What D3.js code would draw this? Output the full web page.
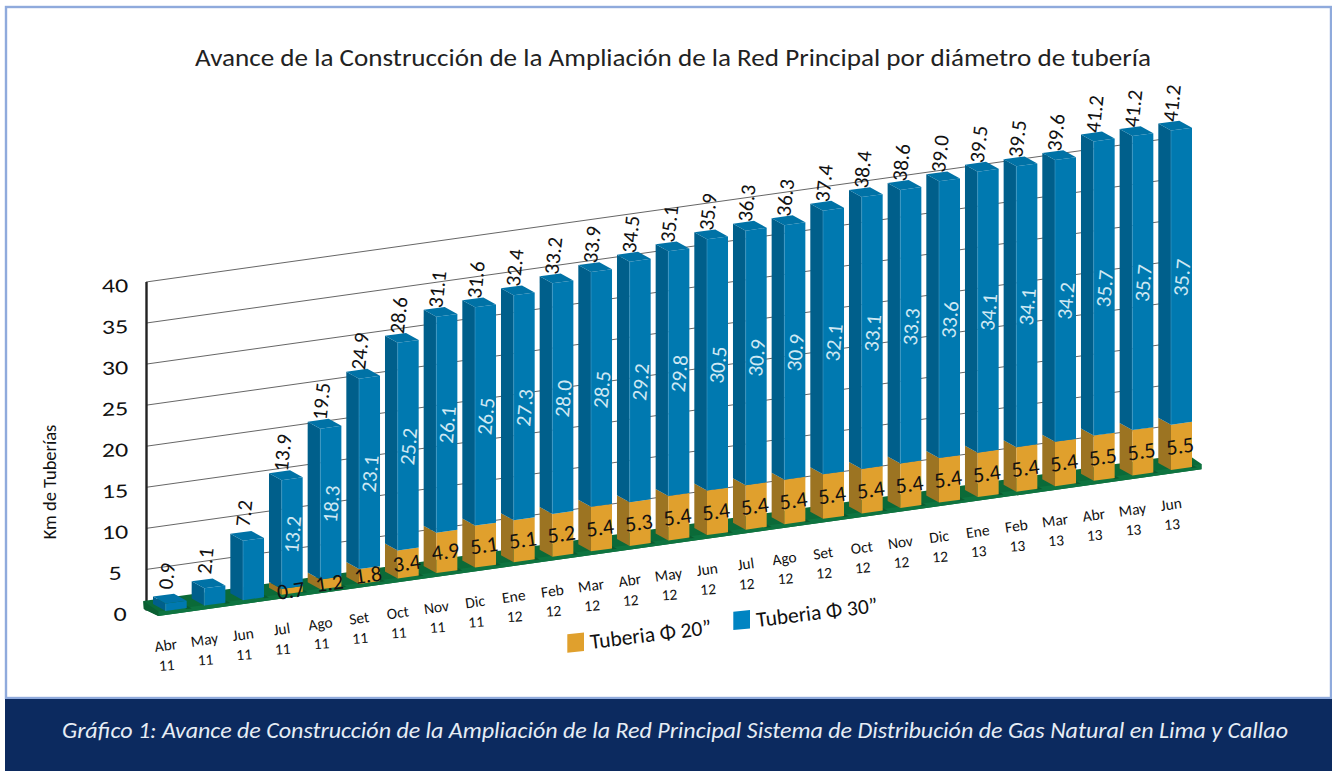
<!DOCTYPE html>
<html><head><meta charset="utf-8">
<script src="https://cdn.jsdelivr.net/npm/d3@7"></script>
<style>html,body{margin:0;padding:0;background:#fff}svg{display:block}text{font-family:Carlito,Lato,"Open Sans",sans-serif}</style>
</head><body><svg id="c" width="1332" height="771"></svg>
<script>
const months=["Abr","May","Jun","Jul","Ago","Set","Oct","Nov","Dic","Ene","Feb","Mar","Abr","May","Jun","Jul","Ago","Set","Oct","Nov","Dic","Ene","Feb","Mar","Abr","May","Jun"];
const years=["11","11","11","11","11","11","11","11","11","12","12","12","12","12","12","12","12","12","12","12","12","13","13","13","13","13","13"];
const tuberia20=[0,0,0,0.7,1.2,1.8,3.4,4.9,5.1,5.1,5.2,5.4,5.3,5.4,5.4,5.4,5.4,5.4,5.4,5.4,5.4,5.4,5.4,5.4,5.5,5.5,5.5];
const tuberia30=[0.9,2.1,7.2,13.2,18.3,23.1,25.2,26.1,26.5,27.3,28.0,28.5,29.2,29.8,30.5,30.9,30.9,32.1,33.1,33.3,33.6,34.1,34.1,34.2,35.7,35.7,35.7];
const totals=[0.9,2.1,7.2,13.9,19.5,24.9,28.6,31.1,31.6,32.4,33.2,33.9,34.5,35.1,35.9,36.3,36.3,37.4,38.4,38.6,39.0,39.5,39.5,39.6,41.2,41.2,41.2];
const yTicks=[0,5,10,15,20,25,30,35,40];
const seriesNames=["Tuberia Φ 20”","Tuberia Φ 30”"];
const titleText="Avance de la Construcción de la Ampliación de la Red Principal por diámetro de tubería";
const footerText="Gráfico 1: Avance de Construcción de la Ampliación de la Red Principal Sistema de Distribución de Gas Natural en Lima y Callao";

const svg=d3.select("#c");
const idx=d3.range(months.length);
const xS=d3.scaleLinear().domain([0,26]).range([165.7,1171]);
const baseS=d3.scaleLinear().domain([0,26]).range([611,470]);
const hS=d3.scaleLinear().domain([0,40]).range([0,329.5]);
const axisY=d3.scaleLinear().domain([0,40]).range([610.5,282]);
const W=21,SL=-2.9,DX=-12.7,DY=-7,GR=-0.1405;
const line=d3.line();
const poly=(g,pts,fill,stroke)=>g.append("path").attr("d",line(pts)+"Z").attr("fill",fill).attr("stroke",stroke||"none").attr("stroke-width",stroke?0.6:0);
const label=(g,str,x,y,rot,size,fill,sx)=>g.append("text").text(str).attr("text-anchor","middle").attr("dominant-baseline","central")
  .attr("transform",`translate(${x},${y}) rotate(${rot})${sx?` scale(${sx},1)`:""}`).attr("font-size",size).attr("fill",fill);

// frame
svg.append("rect").attr("x",6).attr("y",7).attr("width",1325).attr("height",691).attr("fill","#fff").attr("stroke","#8faadc").attr("stroke-width",2.4);
svg.append("rect").attr("x",5).attr("y",699).attr("width",1327).attr("height",72).attr("fill","#0c2a5f");
svg.append("text").text(footerText).attr("x",675).attr("y",738).attr("text-anchor","middle").attr("font-style","italic").attr("font-size",22).attr("fill","#e6edf5").attr("textLength",1226).attr("lengthAdjust","spacingAndGlyphs");
svg.append("text").text(titleText).attr("x",673).attr("y",66).attr("text-anchor","middle").attr("font-size",25).attr("fill","#222").attr("textLength",956).attr("lengthAdjust","spacingAndGlyphs");

// grid
const grid=svg.append("g");
yTicks.slice(1).forEach(v=>{
  const y0=axisY(v);
  grid.append("line").attr("x1",146).attr("y1",y0).attr("x2",1160).attr("y2",y0+(1160-146)*GR).attr("stroke","#555").attr("stroke-width",0.9);
});
grid.append("line").attr("x1",146.5).attr("x2",146.5).attr("y1",axisY(40)).attr("y2",axisY(0)).attr("stroke","#222").attr("stroke-width",2.4);
yTicks.forEach(v=>label(svg,v,115+(v===0?5:0),axisY(v)+3.5,-2,20,"#111",1.3));
label(svg,"Km de Tuberías",49,482,-90,18.5,"#111");

// floor
poly(svg,[[143.3,601],[1187,454],[1201.5,464],[1201.5,469.3],[158.3,616],[143.8,609],[143.3,601]],"#0b6a38");
poly(svg,[[158.3,611.5],[1201.5,464],[1201.5,469.3],[158.3,616]],"#0e7440");
poly(svg,[[143.3,601],[158.3,611.5],[158.3,616],[143.8,609]],"#0a5f32");

// bars
const colors={f20:"#e0a02d",s20:"#9c7422",f30:"#0079b0",s30:"#005f8b",t30:"#0072a6"};
const bars=svg.append("g");
idx.forEach(i=>{
  const g=bars.append("g");
  const x=xS(i),b=baseS(i),h1=hS(tuberia20[i]),h2=hS(totals[i]);
  const notch=[[x+W,b+SL+1],[x+W+5,b+SL+0.3],[x+W+5+DX*0.9,b+SL+DY+1],[x+W+DX*0.9,b+SL+DY+1.5]];
  poly(g,notch,"#0a5c30");
  const face=(y0,y1,fc,sc)=>{
    poly(g,[[x+DX,b-y0+DY],[x,b-y0],[x,b-y1],[x+DX,b-y1+DY]],sc);
    poly(g,[[x,b-y0],[x+W,b-y0+SL],[x+W,b-y1+SL],[x,b-y1]],fc);
  };
  if(h1>0) face(0,h1,colors.f20,colors.s20);
  face(h1,h2,colors.f30,colors.s30);
  poly(g,[[x,b-h2],[x+W,b-h2+SL],[x+W+DX,b-h2+SL+DY],[x+DX,b-h2+DY]],colors.t30);
  g.append("line").attr("x1",x).attr("x2",x).attr("y1",b-h1).attr("y2",b-h2).attr("stroke","#3f9bc6").attr("stroke-width",0.6);
});
// labels
const labels=svg.append("g");
idx.forEach(i=>{
  const x=xS(i),b=baseS(i),h1=hS(tuberia20[i]),h2=hS(totals[i]);
  label(labels,totals[i].toFixed(1),x+1,b-h2-27.5,-84,21,"#111");
  if(tuberia20[i]>0){
    label(labels,tuberia20[i].toFixed(1),x+9,b-h1/2-1.5,-8,22,"#111");
    label(labels,tuberia30[i].toFixed(1),x+11,b-h1-(h2-h1)/2,-85,21,"#cfe8f3");
  }
  label(labels,months[i],x,b+34,-8,15.5,"#111");
  label(labels,years[i],x+1,b+54,-4,15.5,"#111");
});
// legend
const legend=svg.append("g");
const swatch=(x,y,c)=>poly(legend,[[x,y],[x+16.7,y-1.7],[x+16.7,y+16.7],[x,y+18.4]],c);
swatch(567.3,634.3,"#e0a02d");
swatch(733.3,611.7,"#0084c2");
[[591,649,0],[757.3,627,1]].forEach(([x,y,k])=>{
  legend.append("text").text(seriesNames[k]).attr("transform",`translate(${x},${y}) rotate(-7)`).attr("font-size",21.5).attr("fill","#111");
});
</script></body></html>
